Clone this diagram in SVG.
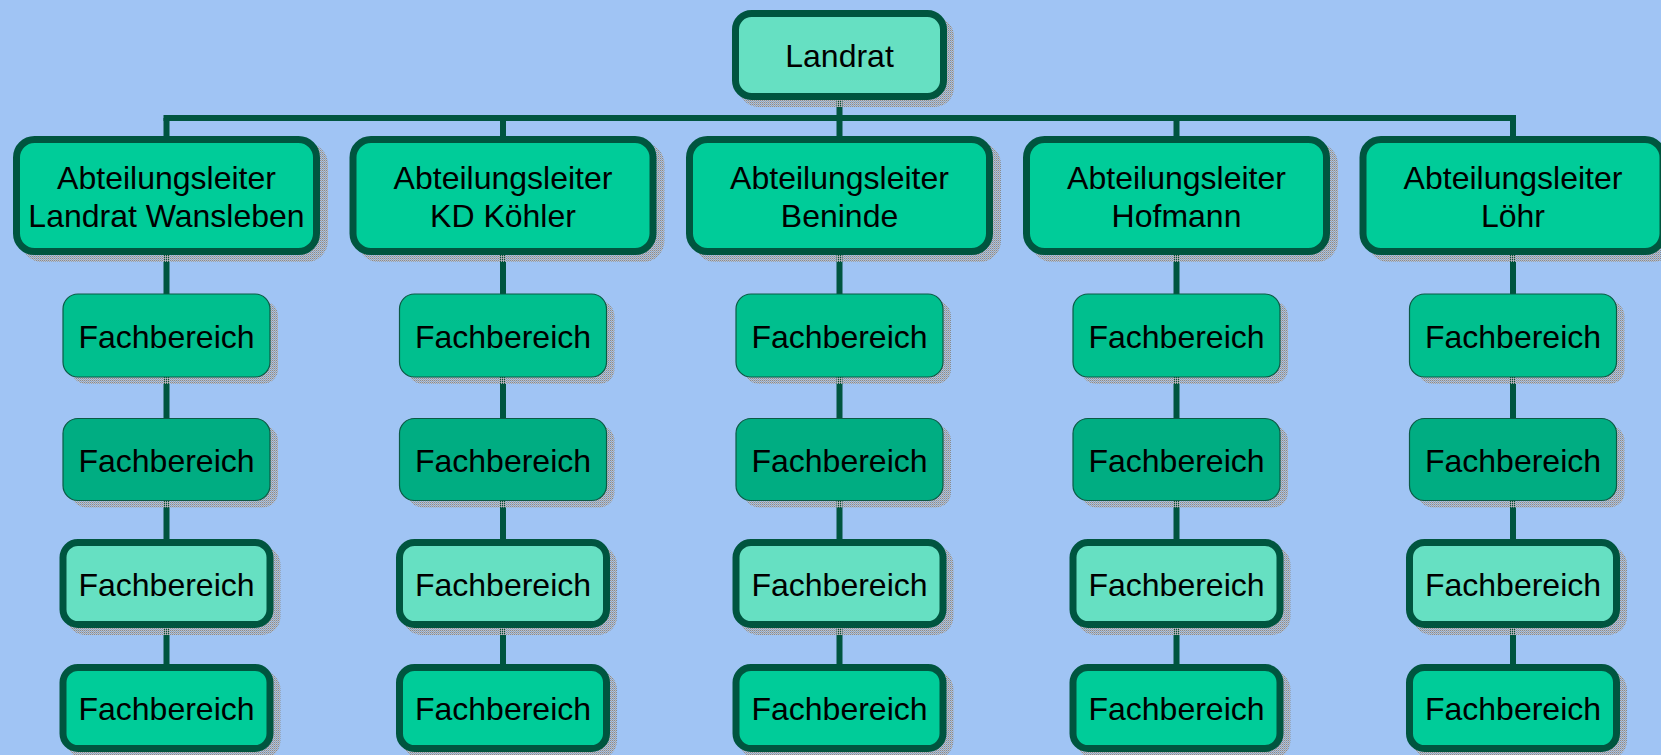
<svg xmlns="http://www.w3.org/2000/svg" width="1661" height="755" viewBox="0 0 1661 755">
<defs>
<pattern id="stip" patternUnits="userSpaceOnUse" width="2" height="2">
<rect x="0" y="0" width="1" height="1" fill="#8a8a8a"/>
<rect x="1" y="1" width="1" height="1" fill="#a4a4a4"/>
<rect x="1" y="0" width="1" height="1" fill="#b8bcc6"/>
</pattern>
<style>
.bg{fill:#A0C4F4}
.sh{fill:url(#stip)}
.shk{fill:url(#stip);stroke:url(#stip);stroke-width:7}
.thick{stroke:#00553F;stroke-width:7}
.thin{stroke:#0B5A44;stroke-width:1.2}
.light{fill:#66E0C2}
.main{fill:#00CC99}
.r1{fill:#00BF8E}
.r2{fill:#00AD82}
.con{stroke:#00553F;stroke-width:6;fill:none}
text{font-family:"Liberation Sans",Arial,sans-serif;font-size:32px;text-anchor:middle;fill:#000}
</style>
</defs>
<rect class="bg" x="0" y="0" width="1661" height="755"/>
<g id="connectors">
<line class="con" x1="839.5" y1="96" x2="839.5" y2="118"/>
<line class="con" x1="163.5" y1="118" x2="1516" y2="118"/>
<line class="con" x1="166.5" y1="118" x2="166.5" y2="668"/>
<line class="con" x1="503" y1="118" x2="503" y2="668"/>
<line class="con" x1="839.5" y1="118" x2="839.5" y2="668"/>
<line class="con" x1="1176.5" y1="118" x2="1176.5" y2="668"/>
<line class="con" x1="1513" y1="118" x2="1513" y2="668"/>
</g>
<g id="landrat">
<rect class="shk" x="742.5" y="20.5" width="208" height="83" rx="16"/>
<rect class="thick light" x="735.5" y="13.5" width="208" height="83" rx="16"/>
<text x="839.5" y="67">Landrat</text>
</g>
<!-- Abteilungsleiter -->
<g id="al1">
<rect class="shk" x="24.5" y="146.5" width="300" height="112" rx="18"/>
<rect class="thick main" x="16.5" y="139.5" width="300" height="112" rx="18"/>
<text x="166.5" y="189">Abteilungsleiter</text><text x="166.5" y="227">Landrat Wansleben</text>
</g>
<g id="al2">
<rect class="shk" x="361" y="146.5" width="300" height="112" rx="18"/>
<rect class="thick main" x="353" y="139.5" width="300" height="112" rx="18"/>
<text x="503" y="189">Abteilungsleiter</text><text x="503" y="227">KD Köhler</text>
</g>
<g id="al3">
<rect class="shk" x="697.5" y="146.5" width="300" height="112" rx="18"/>
<rect class="thick main" x="689.5" y="139.5" width="300" height="112" rx="18"/>
<text x="839.5" y="189">Abteilungsleiter</text><text x="839.5" y="227">Beninde</text>
</g>
<g id="al4">
<rect class="shk" x="1034.5" y="146.5" width="300" height="112" rx="18"/>
<rect class="thick main" x="1026.5" y="139.5" width="300" height="112" rx="18"/>
<text x="1176.5" y="189">Abteilungsleiter</text><text x="1176.5" y="227">Hofmann</text>
</g>
<g id="al5">
<rect class="shk" x="1371" y="146.5" width="300" height="112" rx="18"/>
<rect class="thick main" x="1363" y="139.5" width="300" height="112" rx="18"/>
<text x="1513" y="189">Abteilungsleiter</text><text x="1513" y="227">Löhr</text>
</g>
<!-- Row 1 -->
<g id="fb1-1"><rect class="sh" x="71" y="301" width="207" height="83" rx="15"/><rect class="thin r1" x="63" y="294" width="207" height="83" rx="15"/><text x="166.5" y="348">Fachbereich</text></g>
<g id="fb2-1"><rect class="sh" x="407.5" y="301" width="207" height="83" rx="15"/><rect class="thin r1" x="399.5" y="294" width="207" height="83" rx="15"/><text x="503" y="348">Fachbereich</text></g>
<g id="fb3-1"><rect class="sh" x="744" y="301" width="207" height="83" rx="15"/><rect class="thin r1" x="736" y="294" width="207" height="83" rx="15"/><text x="839.5" y="348">Fachbereich</text></g>
<g id="fb4-1"><rect class="sh" x="1081" y="301" width="207" height="83" rx="15"/><rect class="thin r1" x="1073" y="294" width="207" height="83" rx="15"/><text x="1176.5" y="348">Fachbereich</text></g>
<g id="fb5-1"><rect class="sh" x="1417.5" y="301" width="207" height="83" rx="15"/><rect class="thin r1" x="1409.5" y="294" width="207" height="83" rx="15"/><text x="1513" y="348">Fachbereich</text></g>
<!-- Row 2 -->
<g id="fb1-2"><rect class="sh" x="71" y="425.5" width="207" height="82" rx="15"/><rect class="thin r2" x="63" y="418.5" width="207" height="82" rx="15"/><text x="166.5" y="472">Fachbereich</text></g>
<g id="fb2-2"><rect class="sh" x="407.5" y="425.5" width="207" height="82" rx="15"/><rect class="thin r2" x="399.5" y="418.5" width="207" height="82" rx="15"/><text x="503" y="472">Fachbereich</text></g>
<g id="fb3-2"><rect class="sh" x="744" y="425.5" width="207" height="82" rx="15"/><rect class="thin r2" x="736" y="418.5" width="207" height="82" rx="15"/><text x="839.5" y="472">Fachbereich</text></g>
<g id="fb4-2"><rect class="sh" x="1081" y="425.5" width="207" height="82" rx="15"/><rect class="thin r2" x="1073" y="418.5" width="207" height="82" rx="15"/><text x="1176.5" y="472">Fachbereich</text></g>
<g id="fb5-2"><rect class="sh" x="1417.5" y="425.5" width="207" height="82" rx="15"/><rect class="thin r2" x="1409.5" y="418.5" width="207" height="82" rx="15"/><text x="1513" y="472">Fachbereich</text></g>
<!-- Row 3 -->
<g id="fb1-3"><rect class="shk" x="70" y="549.5" width="207" height="82" rx="15"/><rect class="thick light" x="63" y="542.5" width="207" height="82" rx="15"/><text x="166.5" y="596">Fachbereich</text></g>
<g id="fb2-3"><rect class="shk" x="406.5" y="549.5" width="207" height="82" rx="15"/><rect class="thick light" x="399.5" y="542.5" width="207" height="82" rx="15"/><text x="503" y="596">Fachbereich</text></g>
<g id="fb3-3"><rect class="shk" x="743" y="549.5" width="207" height="82" rx="15"/><rect class="thick light" x="736" y="542.5" width="207" height="82" rx="15"/><text x="839.5" y="596">Fachbereich</text></g>
<g id="fb4-3"><rect class="shk" x="1080" y="549.5" width="207" height="82" rx="15"/><rect class="thick light" x="1073" y="542.5" width="207" height="82" rx="15"/><text x="1176.5" y="596">Fachbereich</text></g>
<g id="fb5-3"><rect class="shk" x="1416.5" y="549.5" width="207" height="82" rx="15"/><rect class="thick light" x="1409.5" y="542.5" width="207" height="82" rx="15"/><text x="1513" y="596">Fachbereich</text></g>
<!-- Row 4 -->
<g id="fb1-4"><rect class="shk" x="70" y="674.5" width="207" height="81" rx="15"/><rect class="thick main" x="63" y="667.5" width="207" height="81" rx="15"/><text x="166.5" y="720">Fachbereich</text></g>
<g id="fb2-4"><rect class="shk" x="406.5" y="674.5" width="207" height="81" rx="15"/><rect class="thick main" x="399.5" y="667.5" width="207" height="81" rx="15"/><text x="503" y="720">Fachbereich</text></g>
<g id="fb3-4"><rect class="shk" x="743" y="674.5" width="207" height="81" rx="15"/><rect class="thick main" x="736" y="667.5" width="207" height="81" rx="15"/><text x="839.5" y="720">Fachbereich</text></g>
<g id="fb4-4"><rect class="shk" x="1080" y="674.5" width="207" height="81" rx="15"/><rect class="thick main" x="1073" y="667.5" width="207" height="81" rx="15"/><text x="1176.5" y="720">Fachbereich</text></g>
<g id="fb5-4"><rect class="shk" x="1416.5" y="674.5" width="207" height="81" rx="15"/><rect class="thick main" x="1409.5" y="667.5" width="207" height="81" rx="15"/><text x="1513" y="720">Fachbereich</text></g>
</svg>
